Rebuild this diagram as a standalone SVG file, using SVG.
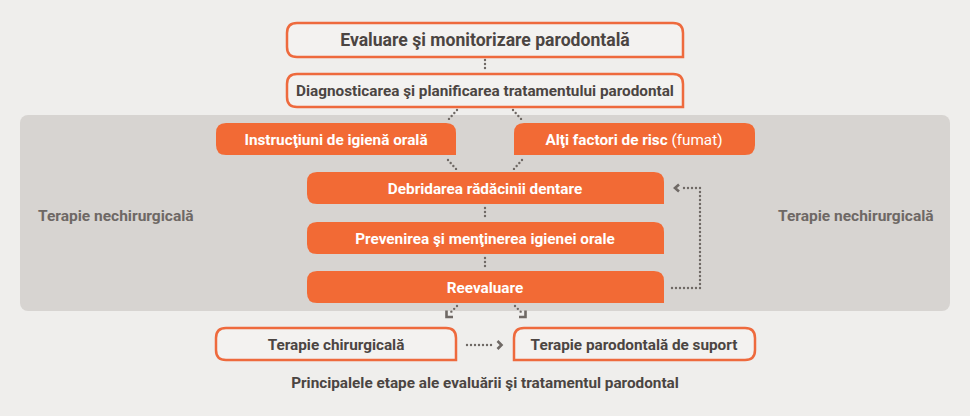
<svg xmlns="http://www.w3.org/2000/svg" width="970" height="416" viewBox="0 0 970 416">
<defs>
<style>
.t{font-family:Roboto,"Liberation Sans",sans-serif;font-weight:700;font-size:15.3px;text-anchor:middle}
.big{font-size:17.6px}
.dk{fill:#4b4542}
.wh{fill:#ffffff}
.side{font-family:Roboto,"Liberation Sans",sans-serif;font-weight:700;font-size:15.5px;fill:#6e6865}
.out{fill:#f3f2f0;stroke:#ee6a3d;stroke-width:2.5}
.or{fill:#f26a35}
.dot{fill:none;stroke:#6f6965;stroke-width:2.4;stroke-linecap:round;stroke-dasharray:0 4}
.ar{fill:none;stroke:#6f6965;stroke-width:2.6}
</style>
</defs>
<rect x="0" y="0" width="970" height="416" fill="#efeeec"/>
<rect x="20" y="115" width="930" height="196" rx="8" fill="#d7d4d1"/>
<g id="label-left"><text class="side" x="38" y="221">Terapie nechirurgicală</text></g>
<g id="label-right"><text class="side" x="778" y="221">Terapie nechirurgicală</text></g>

<g id="connectors">
<line class="dot" x1="485" y1="60" x2="485" y2="71"/>
<line class="dot" x1="457" y1="110" x2="448" y2="120"/>
<line class="dot" x1="513" y1="110" x2="522" y2="120"/>
<line class="dot" x1="448" y1="160" x2="457" y2="170"/>
<line class="dot" x1="522" y1="160" x2="513" y2="170"/>
<line class="dot" x1="485" y1="208" x2="485" y2="219"/>
<line class="dot" x1="485" y1="258" x2="485" y2="268"/>
<polyline class="dot" points="672,288 700,288 700,188 682,188"/>
<path class="ar" d="M679,184.5 L675,188 L679,191.5"/>
<line class="dot" x1="457" y1="306" x2="449" y2="314"/>
<path class="ar" d="M446.5,310.5 L446.5,317 L453,317"/>
<line class="dot" x1="515" y1="306" x2="523" y2="314"/>
<path class="ar" d="M525.5,310.5 L525.5,317 L519,317"/>
<line class="dot" x1="467" y1="345" x2="495" y2="345"/>
<path class="ar" d="M497.5,341 L501.5,345 L497.5,349"/>
</g>

<g id="n-evaluare">
<path class="out" d="M297,23 H673 Q683,23 683,33 V57 H297 Q287,57 287,47 V33 Q287,23 297,23 Z"/>
<text class="t big dk" x="485" y="46">Evaluare şi monitorizare parodontală</text>
</g>
<g id="n-diagnostic">
<path class="out" d="M297,74 H673 Q683,74 683,84 V107 H297 Q287,107 287,97 V84 Q287,74 297,74 Z"/>
<text class="t dk" x="485" y="96">Diagnosticarea şi planificarea tratamentului parodontal</text>
</g>
<g id="n-instructiuni">
<path class="or" d="M226,123 H446 Q456,123 456,133 V155 H226 Q216,155 216,145 V133 Q216,123 226,123 Z"/>
<text class="t wh" x="336" y="144.5">Instrucţiuni de igienă orală</text>
</g>
<g id="n-factori">
<path class="or" d="M524,123 H745 Q755,123 755,133 V145 Q755,155 745,155 H514 V133 Q514,123 524,123 Z"/>
<text class="t wh" x="634" y="144.5">Alţi factori de risc <tspan font-weight="400">(fumat)</tspan></text>
</g>
<g id="n-debridare">
<path class="or" d="M317,172 H654 Q664,172 664,182 V204 H317 Q307,204 307,194 V182 Q307,172 317,172 Z"/>
<text class="t wh" x="485" y="193.5">Debridarea rădăcinii dentare</text>
</g>
<g id="n-prevenire">
<path class="or" d="M317,222 H654 Q664,222 664,232 V254 H317 Q307,254 307,244 V232 Q307,222 317,222 Z"/>
<text class="t wh" x="485" y="243.5">Prevenirea şi menţinerea igienei orale</text>
</g>
<g id="n-reevaluare">
<path class="or" d="M317,271 H654 Q664,271 664,281 V303 H317 Q307,303 307,293 V281 Q307,271 317,271 Z"/>
<text class="t wh" x="485" y="292.5">Reevaluare</text>
</g>
<g id="n-chirurgicala">
<path class="out" d="M226,328 H446 Q456,328 456,338 V360 H226 Q216,360 216,350 V338 Q216,328 226,328 Z"/>
<text class="t dk" x="336" y="349.5">Terapie chirurgicală</text>
</g>
<g id="n-suport">
<path class="out" d="M524,328 H745 Q755,328 755,338 V350 Q755,360 745,360 H514 V338 Q514,328 524,328 Z"/>
<text class="t dk" x="634" y="349.5">Terapie parodontală de suport</text>
</g>
<g id="caption">
<text class="t dk" x="485" y="388">Principalele etape ale evaluării şi tratamentul parodontal</text>
</g>
</svg>
